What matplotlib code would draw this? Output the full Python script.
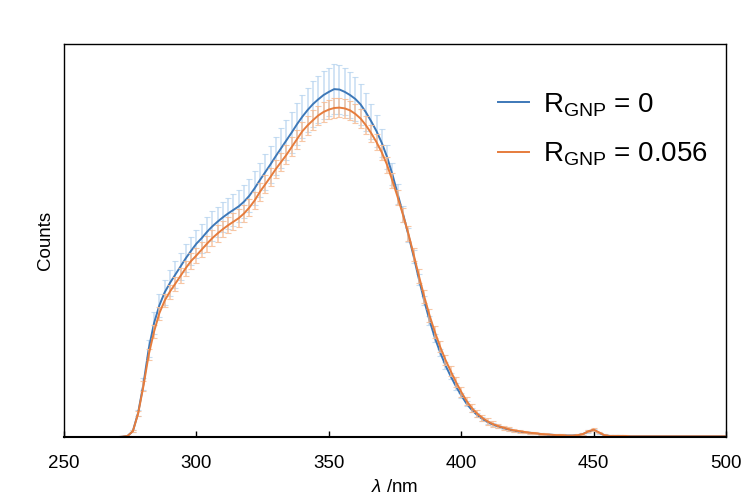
import numpy as np
import matplotlib
matplotlib.use("Agg")
import matplotlib.pyplot as plt

plt.rcParams['font.family'] = ['Liberation Sans', 'DejaVu Sans']
plt.rcParams['mathtext.fontset'] = 'custom'
plt.rcParams['mathtext.rm'] = 'Liberation Sans'
plt.rcParams['mathtext.it'] = 'Liberation Sans:italic'

# wavelength grid (nm), 2 nm steps
wl = np.arange(268, 501, 2)

# R_GNP = 0  (normalised counts)
counts_0 = [
    0.000, 0.000, 0.001, 0.003, 0.015, 0.062, 0.135, 0.225, 0.290, 0.335,  # 268-286
    0.368, 0.392, 0.413, 0.434, 0.455, 0.474, 0.492, 0.506, 0.522, 0.536,  # 288-306
    0.548, 0.559, 0.569, 0.578, 0.587, 0.599, 0.614, 0.633, 0.654, 0.674,  # 308-326
    0.694, 0.715, 0.735, 0.755, 0.775, 0.796, 0.815, 0.832, 0.847, 0.859,  # 328-346
    0.870, 0.878, 0.885, 0.884, 0.878, 0.870, 0.860, 0.846, 0.826, 0.803,  # 348-366
    0.778, 0.748, 0.712, 0.668, 0.618, 0.568, 0.515, 0.460, 0.402, 0.347,  # 368-386
    0.297, 0.253, 0.216, 0.183, 0.155, 0.129, 0.106, 0.085, 0.069, 0.056,  # 388-406
    0.046, 0.038, 0.032, 0.027, 0.023, 0.019, 0.016, 0.014, 0.012, 0.011,  # 408-426
    0.009, 0.008, 0.007, 0.006, 0.005, 0.005, 0.004, 0.004, 0.005, 0.008,  # 428-446
    0.014, 0.018, 0.011, 0.005, 0.003, 0.003, 0.003, 0.002, 0.002, 0.002,  # 448-466
    0.002, 0.002, 0.002, 0.002, 0.002, 0.002, 0.002, 0.002, 0.002, 0.002,  # 468-486
    0.002, 0.002, 0.002, 0.002, 0.002, 0.002, 0.002,                       # 488-500
]
err_0 = [
    0.000, 0.000, 0.000, 0.001, 0.003, 0.008, 0.015, 0.022, 0.028, 0.030,
    0.032, 0.033, 0.034, 0.035, 0.035, 0.036, 0.036, 0.037, 0.037, 0.038,
    0.038, 0.038, 0.039, 0.040, 0.041, 0.042, 0.042, 0.043, 0.044, 0.046,
    0.047, 0.048, 0.050, 0.051, 0.052, 0.054, 0.055, 0.057, 0.058, 0.059,
    0.060, 0.062, 0.063, 0.063, 0.060, 0.058, 0.055, 0.051, 0.048, 0.045,
    0.040, 0.035, 0.031, 0.028, 0.025, 0.021, 0.018, 0.016, 0.014, 0.012,
    0.011, 0.010, 0.009, 0.009, 0.008, 0.008, 0.007, 0.006, 0.005, 0.005,
    0.004, 0.004, 0.003, 0.003, 0.003, 0.003, 0.002, 0.002, 0.002, 0.002,
    0.002, 0.002, 0.002, 0.002, 0.002, 0.002, 0.002, 0.002, 0.002, 0.002,
    0.003, 0.003, 0.002, 0.002, 0.002, 0.002, 0.002, 0.002, 0.002, 0.002,
    0.002, 0.002, 0.002, 0.002, 0.002, 0.002, 0.002, 0.002, 0.002, 0.002,
    0.002, 0.002, 0.002, 0.002, 0.002, 0.002, 0.002,
]

# R_GNP = 0.056
counts_056 = [
    0.000, 0.000, 0.001, 0.003, 0.015, 0.060, 0.130, 0.210, 0.268, 0.315,  # 268-286
    0.347, 0.370, 0.390, 0.410, 0.430, 0.448, 0.462, 0.477, 0.492, 0.506,  # 288-306
    0.518, 0.529, 0.539, 0.548, 0.557, 0.569, 0.584, 0.602, 0.624, 0.643,  # 308-326
    0.662, 0.682, 0.700, 0.718, 0.738, 0.758, 0.778, 0.793, 0.806, 0.818,  # 328-346
    0.827, 0.833, 0.837, 0.838, 0.836, 0.831, 0.822, 0.810, 0.793, 0.773,  # 348-366
    0.750, 0.724, 0.692, 0.652, 0.610, 0.565, 0.518, 0.465, 0.410, 0.358,  # 368-386
    0.310, 0.268, 0.230, 0.197, 0.168, 0.140, 0.115, 0.092, 0.074, 0.060,  # 388-406
    0.049, 0.040, 0.033, 0.028, 0.024, 0.020, 0.017, 0.015, 0.013, 0.011,  # 408-426
    0.010, 0.008, 0.007, 0.006, 0.005, 0.005, 0.004, 0.004, 0.005, 0.008,  # 428-446
    0.015, 0.019, 0.012, 0.005, 0.003, 0.003, 0.003, 0.003, 0.002, 0.002,  # 448-466
    0.002, 0.002, 0.002, 0.002, 0.002, 0.002, 0.002, 0.002, 0.002, 0.002,  # 468-486
    0.002, 0.002, 0.002, 0.002, 0.002, 0.002, 0.002,                       # 488-500
]
err_056 = [
    0.000, 0.000, 0.000, 0.001, 0.003, 0.007, 0.012, 0.014, 0.016, 0.017,
    0.017, 0.018, 0.018, 0.019, 0.019, 0.020, 0.020, 0.020, 0.020, 0.021,
    0.021, 0.021, 0.021, 0.021, 0.022, 0.022, 0.022, 0.022, 0.023, 0.023,
    0.023, 0.023, 0.023, 0.024, 0.024, 0.024, 0.024, 0.024, 0.025, 0.025,
    0.025, 0.025, 0.025, 0.025, 0.025, 0.025, 0.024, 0.024, 0.023, 0.022,
    0.021, 0.020, 0.020, 0.019, 0.019, 0.018, 0.018, 0.017, 0.017, 0.016,
    0.016, 0.015, 0.014, 0.013, 0.013, 0.012, 0.012, 0.011, 0.010, 0.009,
    0.008, 0.008, 0.007, 0.006, 0.005, 0.005, 0.004, 0.004, 0.003, 0.003,
    0.003, 0.003, 0.003, 0.002, 0.002, 0.002, 0.002, 0.002, 0.002, 0.002,
    0.003, 0.003, 0.002, 0.002, 0.002, 0.002, 0.002, 0.002, 0.002, 0.002,
    0.002, 0.002, 0.002, 0.002, 0.002, 0.002, 0.002, 0.002, 0.002, 0.002,
    0.002, 0.002, 0.002, 0.002, 0.002, 0.002, 0.002,
]

labels = [r"R$_{\mathrm{GNP}}$ = 0", r"R$_{\mathrm{GNP}}$ = 0.056"]
line_colors = ["#3d78b8", "#e67c3c"]
bar_colors = ["#bcd7f0", "#f6bd96"]

fig = plt.figure(figsize=(7.44, 4.99), dpi=100)
ax = fig.add_axes([0.086, 0.124, 0.89, 0.788])

series = [(counts_0, err_0), (counts_056, err_056)]
for (y, e), lab, lc, bc in zip(series, labels, line_colors, bar_colors):
    ax.errorbar(wl, y, yerr=e, fmt="none", ecolor=bc, elinewidth=1.1,
                capsize=2.2, capthick=0.8, alpha=0.85)
    ax.plot(wl, y, color=lc, lw=1.4, label=lab)

ax.set_xlim(250, 500)
ax.set_ylim(0, 1.0)
ax.set_xticks([250, 300, 350, 400, 450, 500])
ax.set_yticks([])
ax.tick_params(axis="x", direction="in", length=4, width=1, labelsize=13.5, pad=13)
for s in ax.spines.values():
    s.set_linewidth(1.0)
ax.spines["bottom"].set_linewidth(1.5)

ax.set_xlabel(r"$\it{\lambda}$ /nm", fontsize=13.5, labelpad=5)
ax.set_ylabel("Counts", fontsize=13.5, labelpad=7)

ax.legend(loc="upper left", bbox_to_anchor=(0.656, 0.88), frameon=False,
          borderaxespad=0, borderpad=0,
          fontsize=20, handlelength=1.1, handletextpad=0.5, labelspacing=0.8)

fig.savefig("out.png", dpi=100)
